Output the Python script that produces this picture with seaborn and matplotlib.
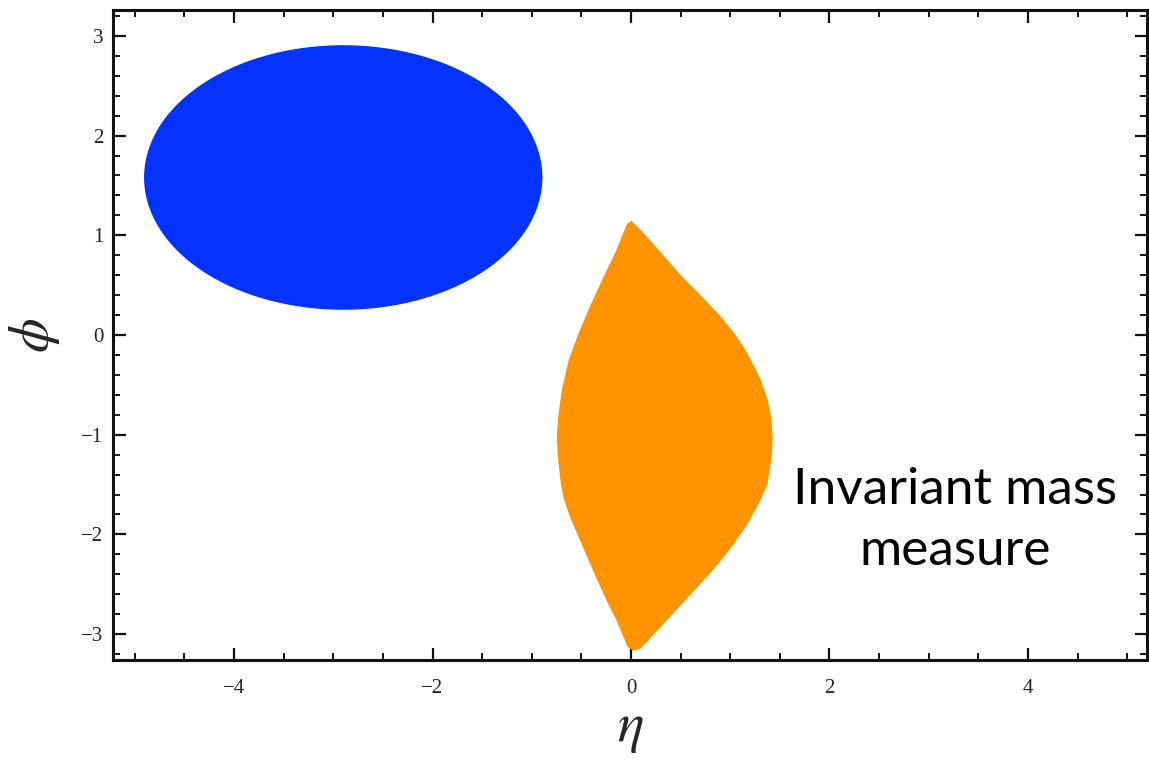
import numpy as np
import pandas as pd
import matplotlib
matplotlib.use("Agg")
import matplotlib.pyplot as plt
import seaborn as sns
from matplotlib.ticker import MultipleLocator

# Region 1: elliptical region in the (eta, phi) plane
ellipse_center = (-2.9, 1.58)
ellipse_semi_axes = (2.0, 1.32)

# Region 2: invariant-mass region boundary (eta, phi), right side top -> bottom
right_eta = [0.00, 0.09, 0.21, 0.36, 0.51, 0.71, 0.90, 1.03, 1.12, 1.20, 1.30, 1.37,
             1.41, 1.42, 1.41, 1.37, 1.28, 1.17, 1.03, 0.90, 0.76, 0.51, 0.26, 0.09, 0.02]
right_phi = [1.14, 1.05, 0.92, 0.75, 0.58, 0.38, 0.18, 0.02, -0.11, -0.25, -0.45, -0.65,
             -0.85, -1.04, -1.22, -1.49, -1.69, -1.89, -2.09, -2.26, -2.42, -2.69,
             -2.96, -3.14, -3.16]
# left side bottom -> top
left_eta = [-0.03, -0.14, -0.25, -0.35, -0.51, -0.61, -0.67, -0.70, -0.73, -0.74,
            -0.73, -0.69, -0.62, -0.52, -0.40, -0.27, -0.14, -0.03]
left_phi = [-3.12, -2.86, -2.64, -2.42, -2.05, -1.82, -1.64, -1.49, -1.22, -1.04,
            -0.85, -0.55, -0.25, 0.02, 0.30, 0.58, 0.85, 1.12]

x_ticks = [-4, -2, 0, 2, 4]
y_ticks = [-3, -2, -1, 0, 1, 2, 3]
x_limits = (-5.22, 5.2)
y_limits = (-3.26, 3.26)

BLUE = "#0433FF"
ORANGE = "#FF9300"

sns.set_style("ticks")
plt.rcParams["mathtext.fontset"] = "stix"

fig = plt.figure(figsize=(11.49, 7.62), dpi=100)
ax = fig.add_axes([113 / 1149, 102 / 762, 1034 / 1149, 650 / 762])

# ellipse outline sampled in its own parameter
t = np.linspace(0, 2 * np.pi, 400)
ell = pd.DataFrame({
    "eta": ellipse_center[0] + ellipse_semi_axes[0] * np.cos(t),
    "phi": ellipse_center[1] + ellipse_semi_axes[1] * np.sin(t),
})
lens = pd.DataFrame({
    "eta": right_eta + left_eta,
    "phi": right_phi + left_phi,
})

for df, col in [(ell, BLUE), (lens, ORANGE)]:
    ax.fill(df["eta"], df["phi"], color=col, lw=0)
    sns.lineplot(data=df, x="eta", y="phi", sort=False, estimator=None,
                 color=col, lw=1.0, ax=ax)

ax.set_xlim(*x_limits)
ax.set_ylim(*y_limits)
ax.set_xticks(x_ticks)
ax.set_yticks(y_ticks)
ax.xaxis.set_minor_locator(MultipleLocator(0.5))
ax.yaxis.set_minor_locator(MultipleLocator(0.2))
ax.set_xticklabels([f"\u2212{abs(v)}" if v < 0 else str(v) for v in x_ticks],
                   family="Liberation Serif", fontsize=15, color="#222222")
ax.set_yticklabels([f"\u2212{abs(v)}" if v < 0 else str(v) for v in y_ticks],
                   family="Liberation Serif", fontsize=15, color="#222222")
ax.tick_params(which="both", direction="in", top=True, right=True, color="#111111")
ax.tick_params(which="major", length=9, width=1.6)
ax.tick_params(which="minor", length=5, width=1.4)
ax.tick_params(axis="x", which="major", pad=14)
ax.tick_params(axis="y", which="major", pad=7)
for s in ax.spines.values():
    s.set_visible(True)
    s.set_linewidth(2.2)
    s.set_color("#111111")

ax.set_xlabel(r"$\eta$", fontsize=40, labelpad=2)
ax.set_ylabel(r"$\phi$", fontsize=40, labelpad=14)

ax.text(3.27, -1.86, "Invariant mass\nmeasure", ha="center", va="center",
        fontsize=37, family="Lato", linespacing=1.4, color="black")

fig.savefig("out.png", dpi=100)
